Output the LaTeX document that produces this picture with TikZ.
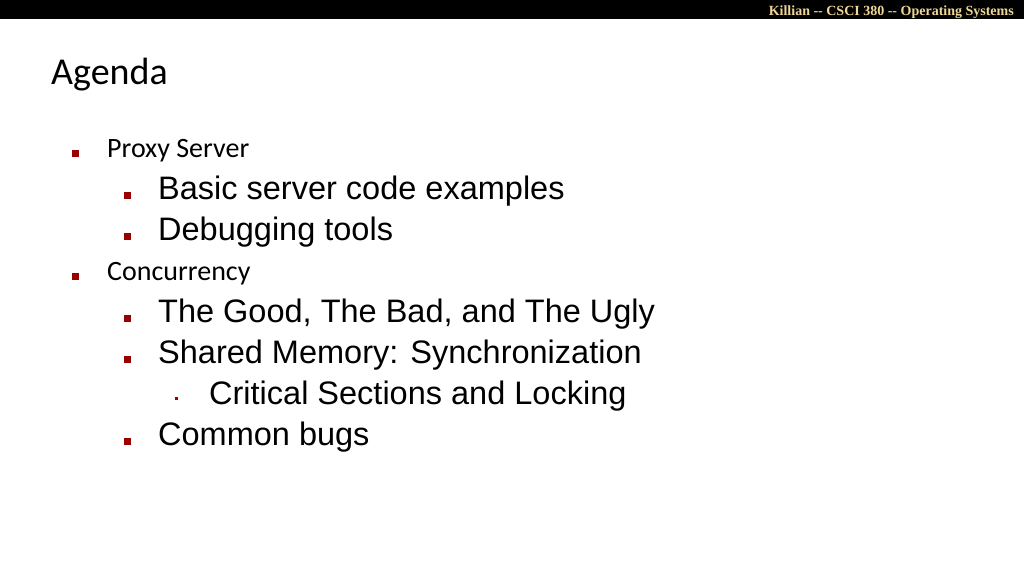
\documentclass[tikz,border=0pt]{standalone}
\usepackage{fontspec}
\setmainfont{Liberation Sans}
\newfontfamily\calib{Carlito}
\newfontfamily\headfont{Liberation Serif}
\definecolor{bulletred}{RGB}{153,0,0}
\definecolor{headgold}{RGB}{238,214,150}
\tikzset{
  lvlone/.style={anchor=base west,inner sep=0pt,font=\calib\fontsize{28}{30}\selectfont},
  lvltwo/.style={anchor=base west,inner sep=0pt,font=\fontsize{32.5}{34}\selectfont},
  sqbig/.style={fill=bulletred},
}
\begin{document}
\begin{tikzpicture}[x=1pt,y=-1pt]
    \useasboundingbox (0,0) rectangle (1024,576);
    % Header
    \fill [black] (0,0) rectangle (1024,19);
    \node [anchor=base east,inner sep=0pt,text=headgold,
        font=\headfont\bfseries\fontsize{14}{16}\selectfont] (hdr) at (1014,15)
        {Killian -- CSCI 380 -- Operating Systems};

    % Title
    \node [anchor=base west,inner sep=0pt,font=\calib\fontsize{38}{40}\selectfont]
        (title) at (51,84) {Agenda};

    % Level one
    \node [lvlone] (proxy) at (107,157) {Proxy Server};
    \node [lvlone] (conc) at (107,280) {Concurrency};
    \fill [sqbig] (72,150) rectangle (79,157);
    \fill [sqbig] (72,273) rectangle (79,280);

    % Level two
    \node [lvltwo] (basic) at (158,199) {Basic server code examples};
    \node [lvltwo] (debug) at (158,240) {Debugging tools};
    \node [lvltwo] (good) at (158,322) {The Good, The Bad, and The Ugly};
    \node [lvltwo] (shared) at (158,363) {Shared Memory: Synchronization};
    \node [lvltwo] (common) at (158,445) {Common bugs};
    \foreach \yb in {199,240,322,363,445}
        \fill [sqbig] (124,\yb-7) rectangle (131,\yb);

    % Level three
    \node [lvltwo] (crit) at (209,404) {Critical Sections and Locking};
    \fill [sqbig] (175,397) rectangle (178,400);
\end{tikzpicture}
\end{document}
